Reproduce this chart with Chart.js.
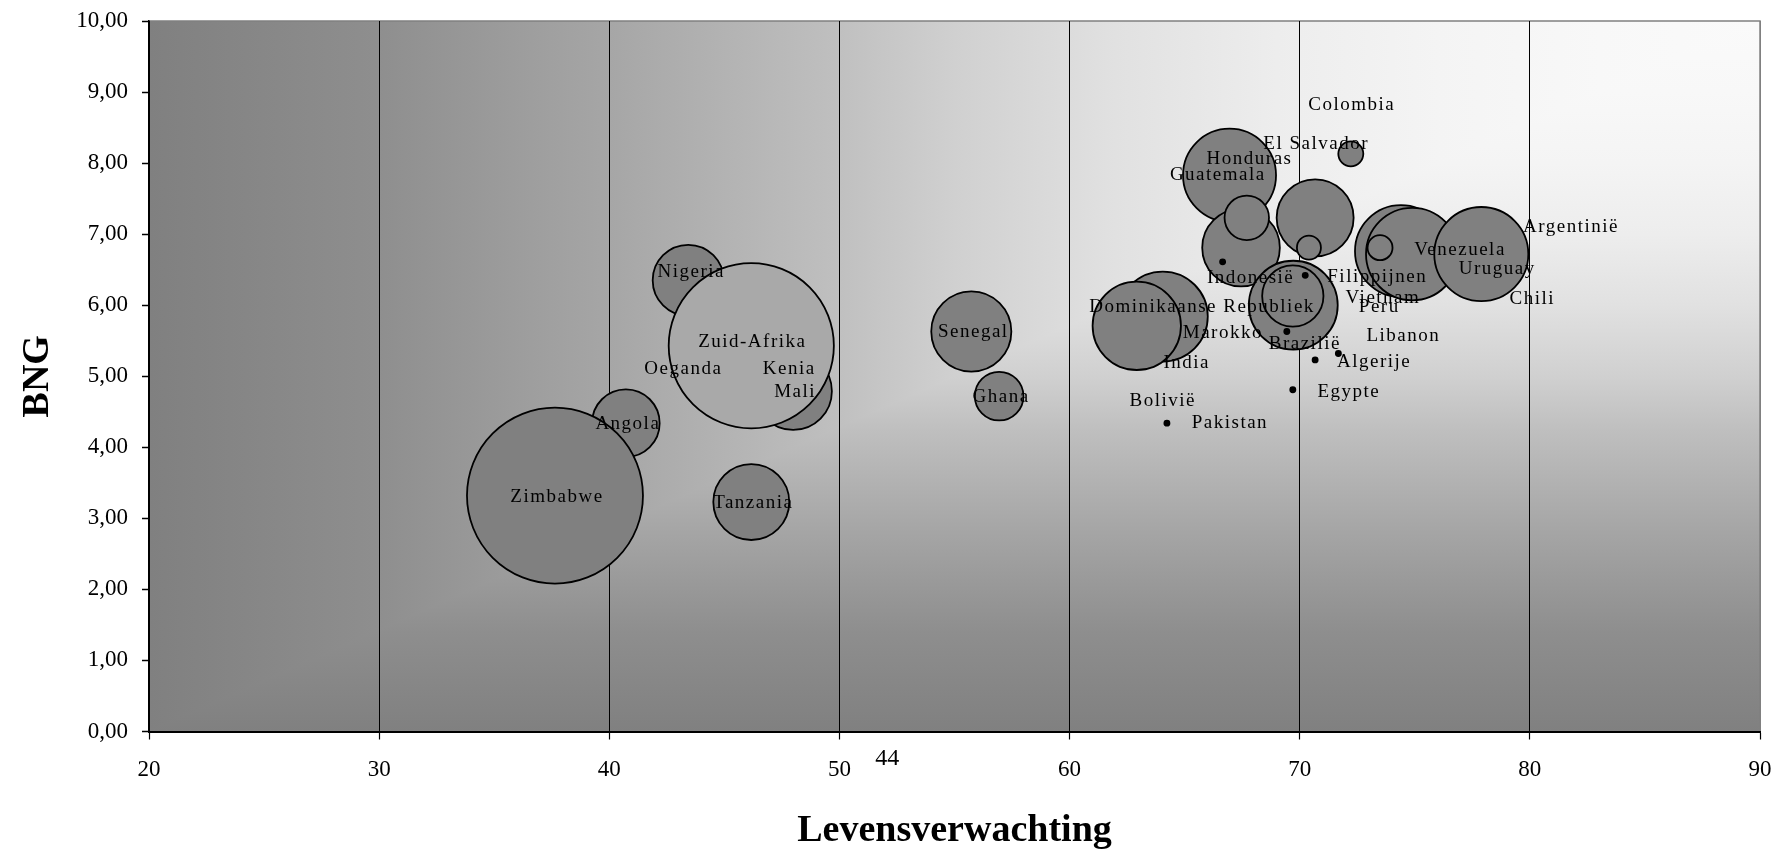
<!DOCTYPE html>
<html>
<head>
<meta charset="utf-8">
<script src="https://cdn.jsdelivr.net/npm/chart.js@4.4.1/dist/chart.umd.min.js"></script>
<style>
  html, body { margin: 0; padding: 0; background: #fff; }
  #wrap { width: 1778px; height: 853px; }
</style>
</head>
<body>
<div id="wrap"><canvas id="chart"></canvas></div>
<script>
// Countries in drawing order (back to front)
const countries = [
  "Nigeria", "Kenia", "Oeganda", "Mali", "Zuid-Afrika", "Angola", "Zimbabwe", "Tanzania", "Senegal", "Ghana",
  "Bolivië", "India", "Honduras", "Dominikaanse Republiek", "Guatemala", "El Salvador", "Vietnam", "Colombia",
  "Peru", "Marokko", "Argentinië", "Uruguay", "Venezuela", "Chili",
  "Indonesië", "Filippijnen", "Brazilië", "Libanon", "Algerije", "Egypte", "Pakistan"
];
const lifeExpectancy = [
  43.43, 47.73, 43.13, 47.99, 46.17, 40.72, 37.64, 46.17, 55.73, 56.94,
  64.05, 62.92, 66.95, 67.45, 67.70, 70.67, 70.40, 72.22,
  69.72, 69.70, 74.40, 74.89, 73.49, 77.89,
  66.65, 70.24, 69.44, 71.68, 70.67, 69.70, 64.23
];
const bng = [
  6.35, 5.12, 5.12, 4.79, 5.43, 4.34, 3.32, 3.23, 5.63, 4.72,
  5.84, 5.71, 7.83, 6.81, 7.23, 7.23, 6.81, 8.13,
  6.00, 6.13, 6.76, 6.72, 6.81, 6.72,
  6.61, 6.42, 5.63, 5.32, 5.23, 4.81, 4.34
];
const bubbleSize = [
  15.6, 1.5, 0.4, 18.5, 84.2, 14.1, 95.6, 17.8, 19.8, 7.3,
  25.0, 24.1, 26.7, 18.6, 6.1, 18.3, 1.78, 1.93,
  24.4, 11.6, 26.1, 26.4, 1.93, 27.3,
  0.08, 0.08, 0.08, 0.08, 0.08, 0.08, 0.08
];
const xTicks = [20, 30, 40, 50, 60, 70, 80, 90];
const yTicks = [0, 1, 2, 3, 4, 5, 6, 7, 8, 9, 10];

const serif = "'Liberation Serif', 'Times New Roman', serif";
const radiusFor = v => 9 * Math.sqrt(v);

// where a data label sits relative to its bubble (px)
const labelNudge = {
  "Nigeria": [3, -8], "Zuid-Afrika": [1, -4],
  "Honduras": [20, -16], "Guatemala": [-29, -43], "Dominikaanse Republiek": [-39, 59],
  "El Salvador": [1, -74], "Vietnam": [74, 50], "Colombia": [1, -49],
  "Argentinië": [170, -24], "Uruguay": [85, 15], "Venezuela": [80, 2], "Chili": [51, 45],
  "Peru": [86, 2], "Marokko": [-70, 37], "India": [50, 37], "Bolivië": [0, 84],
  "Indonesië": [28, 16], "Filippijnen": [72, 2], "Brazilië": [18, 13], "Libanon": [65, -17],
  "Algerije": [59, 2], "Egypte": [56, 2], "Pakistan": [63, 0]
};

// grey ramp of the "from corner" fill, 0 = top right corner
const ramp = [[0, 250], [0.1, 248], [0.2, 244], [0.3, 237], [0.4, 225], [0.5, 208],
  [0.58, 190], [0.72, 165], [0.86, 142], [1, 128]];
function addStops(g) {
  ramp.forEach(([t, v]) => g.addColorStop(t, `rgb(${v},${v},${v})`));
}

const plotBackground = {
  id: "plotBackground",
  beforeDraw(chart) {
    const { ctx, chartArea: a } = chart;
    ctx.save();
    const h = ctx.createLinearGradient(a.right, 0, a.left, 0);
    addStops(h);
    ctx.fillStyle = h;
    ctx.fillRect(a.left, a.top, a.width, a.height);
    // lower-right triangle takes the vertical ramp
    ctx.beginPath();
    ctx.moveTo(a.right, a.top);
    ctx.lineTo(a.right, a.bottom);
    ctx.lineTo(a.left, a.bottom);
    ctx.closePath();
    ctx.clip();
    const v = ctx.createLinearGradient(0, a.top, 0, a.bottom);
    addStops(v);
    ctx.fillStyle = v;
    ctx.fillRect(a.left, a.top, a.width, a.height);
    ctx.restore();
    // grey frame on top and right
    ctx.save();
    ctx.strokeStyle = "#808080";
    ctx.lineWidth = 1.5;
    ctx.beginPath();
    ctx.moveTo(a.left, a.top);
    ctx.lineTo(a.right, a.top);
    ctx.lineTo(a.right, a.bottom);
    ctx.stroke();
    ctx.restore();
  }
};

const pointLabels = {
  id: "pointLabels",
  afterDatasetsDraw(chart) {
    const { ctx } = chart;
    const meta = chart.getDatasetMeta(0);
    ctx.save();
    ctx.font = `19px ${serif}`;
    ctx.letterSpacing = "1.5px";
    ctx.fillStyle = "#000";
    ctx.textAlign = "center";
    ctx.textBaseline = "middle";
    meta.data.forEach((el, i) => {
      const [dx, dy] = labelNudge[countries[i]] || [2, 1];
      ctx.fillText(countries[i], el.x + dx, el.y + dy);
    });
    ctx.restore();
  },
  afterDraw(chart) {
    // stray "44" below the axis
    const { ctx, chartArea: a, scales } = chart;
    ctx.save();
    ctx.font = `24px ${serif}`;
    ctx.fillStyle = "#000";
    ctx.textAlign = "center";
    ctx.textBaseline = "middle";
    ctx.fillText("44", scales.x.getPixelForValue(52.08), a.bottom + 27);
    ctx.restore();
  }
};

new Chart(document.getElementById("chart"), {
  type: "bubble",
  data: {
    datasets: [{
      data: countries.map((c, i) => ({ x: lifeExpectancy[i], y: bng[i], r: radiusFor(bubbleSize[i]) })),
      backgroundColor: ctx => {
        if (countries[ctx.dataIndex] === "Zuid-Afrika") return "#a9a9a9";
        return ctx.raw && ctx.raw.r < 4 ? "#000" : "#808080";
      },
      borderColor: "#000",
      borderWidth: 1.8,
      hoverRadius: 0
    }]
  },
  options: {
    responsive: true,
    maintainAspectRatio: false,
    animation: false,
    events: [],
    layout: { autoPadding: false, padding: { top: 21, right: 18, left: 0, bottom: 0 } },
    plugins: { legend: { display: false }, tooltip: { enabled: false } },
    scales: {
      x: {
        type: "linear",
        min: xTicks[0],
        max: xTicks[xTicks.length - 1],
        afterBuildTicks: s => { s.ticks = xTicks.map(v => ({ value: v })); },
        afterFit: s => { s.height = 121.5; s.paddingLeft = 0; s.paddingRight = 0; },
        grid: {
          color: c => (c.tick && c.tick.value === 90 ? "#808080" : "#000"),
          lineWidth: 1,
          tickColor: "#000",
          tickLength: 8,
          tickWidth: 1.2
        },
        border: { color: "#000", width: 2 },
        ticks: { color: "#000", font: { family: serif, size: 23 }, padding: 17, maxRotation: 0 },
        title: {
          display: true,
          text: "Levensverwachting",
          color: "#000",
          font: { family: serif, size: 38, weight: "bold", lineHeight: 1 },
          padding: { top: 0, bottom: 2.5 }
        }
      },
      y: {
        min: yTicks[0],
        max: yTicks[yTicks.length - 1],
        afterBuildTicks: s => { s.ticks = yTicks.map(v => ({ value: v })); },
        afterFit: s => { s.width = 149; s.paddingTop = 0; s.paddingBottom = 0; },
        grid: { drawOnChartArea: false, tickColor: "#000", tickLength: 7, tickWidth: 1.5 },
        border: { color: "#000", width: 1.5 },
        ticks: {
          color: "#000",
          font: { family: serif, size: 23 },
          padding: 14,
          callback: v => v.toFixed(2).replace(".", ",")
        },
        title: {
          display: true,
          text: "BNG",
          color: "#000",
          font: { family: serif, size: 38, weight: "bold" },
          padding: { top: 15.5, bottom: 0 }
        }
      }
    }
  },
  plugins: [plotBackground, pointLabels]
});
</script>
</body>
</html>
